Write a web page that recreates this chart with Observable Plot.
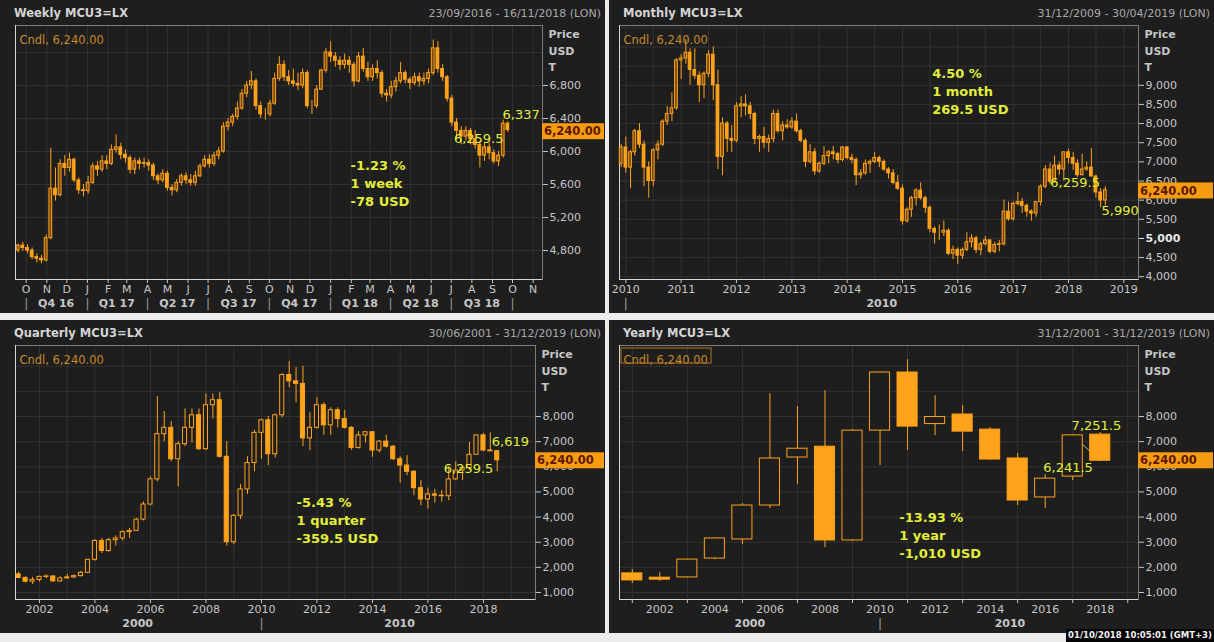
<!DOCTYPE html>
<html><head><meta charset="utf-8">
<script src="https://cdn.jsdelivr.net/npm/d3@7"></script>
<script src="https://cdn.jsdelivr.net/npm/@observablehq/plot@0.6"></script>
<style>
html,body{margin:0;padding:0;background:#ececec;}
#root{position:relative;width:1214px;height:642px;overflow:hidden;background:#ececec;font-family:"DejaVu Sans",sans-serif;}
.panel{position:absolute;width:605px;height:313px;background:#1e1e1e;overflow:hidden;box-shadow:inset 0 0 0 1px #4a4a4a;}
.panel svg{position:absolute;left:0;top:0;}
.ttl{position:absolute;left:14px;top:6px;font-weight:bold;font-size:11.5px;color:#d4d4d4;white-space:nowrap;}
.rng{position:absolute;right:4px;top:7px;font-size:11px;color:#a9a9a9;white-space:nowrap;}
.stamp{position:absolute;left:1066px;top:629px;width:148px;height:13px;background:#050505;color:#f0f0f0;font-size:8.5px;font-weight:bold;line-height:13px;text-align:center;white-space:nowrap;}
</style></head>
<body><div id="root"></div>
<script>
// ---------------- DATA ----------------
const lastPrice = 6240;
const instrument = "MCU3=LX";

// Weekly candles (week starting Monday 2016-09-19 ... 2018-09-24)
const weeklyDates = d3.utcMonday.range(new Date("2016-09-19"), new Date("2018-09-25"));
const weeklyOpen = [4800,4860,4830,4800,4720,4700,4680,4950,5550,5470,
5850,5800,5900,5650,5530,5520,5620,5820,5780,5880,
5850,6020,6050,5960,5920,5780,5880,5850,5860,5830,
5700,5650,5730,5560,5530,5620,5700,5650,5620,5700,
5820,5900,5850,5950,6000,6300,6350,6420,6520,6700,
6800,6850,6550,6450,6450,6580,6880,7050,6900,6850,
6820,6800,6950,6550,6550,6750,6980,7200,7150,7100,
7050,7100,7050,6850,7150,7000,6900,7000,6950,6700,
6680,6780,6850,6950,6870,6830,6900,6850,6880,6950,
7250,7000,6900,6640,6350,6250,6180,6250,6150,6080,
5950,6050,5980,5880,5950,6337];
const weeklyHigh = [4880,4900,4870,4830,4760,4740,4990,6040,5800,5900,
5950,5980,5920,5680,5600,5700,5860,5880,5950,5950,
6080,6200,6100,6020,5950,5920,5920,5920,5900,5860,
5730,5780,5760,5600,5660,5730,5740,5720,5760,5850,
5950,5960,5990,6050,6350,6400,6450,6600,6750,6850,
6970,6880,6600,6520,6620,6950,7150,7100,6980,7000,
6950,7000,6980,6620,6800,7000,7250,7330,7200,7150,
7180,7150,7080,7200,7250,7080,7050,7100,6980,6750,
6850,6900,7080,6980,6900,6950,6950,6950,7000,7350,
7330,7050,6920,6680,6400,6300,6300,6280,6250,6120,
6100,6100,6020,6000,6380,6360];
const weeklyLow = [4770,4790,4760,4690,4650,4640,4660,4930,5400,5450,
5700,5750,5620,5480,5450,5480,5600,5700,5750,5780,
5830,5980,5900,5860,5730,5720,5780,5800,5760,5650,
5600,5620,5520,5460,5500,5580,5600,5580,5580,5680,
5800,5800,5820,5900,5980,6250,6300,6380,6500,6650,
6750,6500,6400,6380,6420,6560,6850,6850,6800,6780,
6740,6760,6520,6450,6520,6740,6950,7080,7020,6980,
7000,6950,6780,6830,6960,6850,6850,6880,6650,6600,
6640,6720,6820,6820,6750,6800,6780,6800,6820,6920,
6950,6850,6600,6300,6160,6080,6130,6080,6030,5800,
5880,5900,5850,5820,5920,6230];
const weeklyClose = [4860,4830,4800,4720,4700,4680,4950,5550,5470,5850,
5800,5900,5650,5530,5520,5620,5820,5780,5880,5850,
6020,6050,5960,5920,5780,5880,5850,5860,5830,5700,
5650,5730,5560,5530,5620,5700,5650,5620,5700,5820,
5900,5850,5950,6000,6300,6350,6420,6520,6700,6800,
6850,6550,6450,6450,6580,6880,7050,6900,6850,6820,
6800,6950,6550,6550,6750,6980,7200,7150,7100,7050,
7100,7050,6850,7150,7000,6900,7000,6950,6700,6680,
6780,6850,6950,6870,6830,6900,6850,6880,6950,7250,
7000,6900,6640,6350,6250,6180,6250,6150,6080,5950,
6050,5980,5880,5950,6337,6259.5];

// Monthly candles (Dec 2009 ... Sep 2018)
const monthlyDates = d3.utcMonth.range(new Date("2009-12-01"), new Date("2018-09-02"));
const monthlyOpen = [6950,
7375,6850,7250,7800,7450,6850,6500,7300,7450,8050,8250,8400,
9650,9700,9850,9400,9250,9000,9300,9800,9000,7130,8000,7600,
7550,8450,8500,8450,8250,7600,7650,7500,7600,8250,7800,7950,
7900,8050,7800,7550,7000,7250,6750,6950,7150,7250,7200,7050,
7375,7100,7050,6650,6700,6950,7000,7100,7000,6800,6700,6450,
6300,5450,5750,6050,6250,6050,5800,5250,5150,5150,5200,4600,
4700,4550,4700,4900,5000,4700,4850,4950,4650,4830,4850,5700,
5500,5900,5950,5850,5700,5650,5950,6350,6800,6480,6900,6800,
7250,7100,6950,6650,6800,6850,6619,6200,5990];
const monthlyHigh = [7450,
7650,7300,7850,8000,7550,7000,7350,7550,8100,8450,8800,9700,
9800,10190,9950,9950,9350,9350,9900,10000,9400,8150,8050,7950,
8550,8700,8750,8550,8300,7700,7900,7700,8350,8350,8050,8100,
8150,8250,7850,7600,7450,7350,7000,7400,7300,7400,7250,7400,
7400,7200,7100,6800,7050,7050,7250,7150,7050,6850,6800,6650,
6400,5800,6100,6300,6450,6100,5850,5300,5350,5450,5250,4800,
4750,4750,5150,5100,5050,4900,5050,4950,4900,4950,6000,5950,
5950,6200,6050,5900,5750,5950,6400,6900,6970,7150,7000,7250,
7330,7250,7050,7200,7000,7350,6650,6300,6350];
const monthlyLow = [6850,
6700,6300,7150,7350,6350,6050,6350,7050,7400,7950,8050,8350,
9150,9550,9000,9150,8550,8650,9200,8600,6800,6640,7250,7250,
7500,8150,8200,8100,7450,7250,7350,7250,7500,7750,7550,7850,
7850,7750,7500,6850,6950,6650,6700,6900,6950,7050,6950,7000,
7050,6950,6380,6550,6650,6700,6950,6850,6750,6550,6400,6250,
5350,5400,5550,5850,6000,5650,5150,4850,4950,5050,4550,4450,
4320,4450,4650,4750,4600,4550,4800,4600,4600,4650,4800,5450,
5450,5850,5650,5550,5450,5550,5850,6300,6400,6450,6650,6500,
6950,6780,6600,6650,6750,6600,6050,5800,5850];
const monthlyClose = [7375,
6850,7250,7800,7450,6850,6500,7300,7450,8050,8250,8400,9650,
9700,9850,9400,9250,9000,9300,9800,9000,7130,8000,7600,7550,
8450,8500,8450,8250,7600,7650,7500,7600,8250,7800,7950,7900,
8050,7800,7550,7000,7250,6750,6950,7150,7250,7200,7050,7375,
7100,7050,6650,6700,6950,7000,7100,7000,6800,6700,6450,6300,
5450,5750,6050,6250,6050,5800,5250,5150,5150,5200,4600,4700,
4550,4700,4900,5000,4700,4850,4950,4650,4830,4850,5700,5500,
5900,5950,5850,5700,5650,5950,6350,6800,6480,6900,6800,7250,
7100,6950,6650,6800,6850,6619,6200,5990,6259.5];

// Quarterly candles (Q2 2001 ... Q3 2018)
const quarterlyDates = d3.utcMonth.every(3).range(new Date("2001-04-01"), new Date("2018-07-02"));
const quarterlyOpen = [1720,1580,1430, 1500,1620,1640,1440, 1560,1600,1650,1780, 2300,3050,2650,3080,
3150,3400,3450,3900, 4500,5500,7300,7550, 6300,6900,7550,8050, 6700,8450,8650,6400,
3000,4050,5100,6150, 7350,7850,6500,8050, 9650,9400,9300,7130, 7550,8450,7650,8250,
7900,7550,6750,7250, 7375,6650,7000,6800, 6300,6050,5800,5150, 4700,4900,4850,4830,
5500,5850,5950,6480, 7250,6650,6619];
const quarterlyHigh = [1800,1620,1600, 1650,1700,1650,1620, 1720,1700,1850,2320, 3100,3150,3150,3250,
3450,3550,3950,4600, 5600,8800,8200,7800, 7000,8300,8300,8300, 8900,8900,8950,7000,
4100,5300,6400,7450, 7900,8000,8100,9700, 10190,9950,10000,8150, 8750,8550,8350,8350,
8250,7600,7400,7400, 7400,7050,7250,6850, 6400,6450,5850,5450, 5150,5100,5050,6000,
6200,5950,6970,7250, 7330,7350,6650];
const quarterlyLow = [1560,1380,1320, 1420,1550,1420,1420, 1550,1560,1620,1760, 2250,2550,2600,2850,
3050,3150,3450,3850, 4450,5400,7000,6200, 5200,6800,6950,6650, 6650,7900,6350,2850,
2900,3900,4900,5800, 6300,6050,6350,7950, 9150,8550,6800,6640, 7500,7250,7250,7550,
7500,6650,6700,6950, 6380,6550,6750,6250, 5350,5650,4850,4450, 4320,4550,4600,4650,
5450,5450,5850,6450, 6600,6600,5800];
const quarterlyClose = [1580,1430,1500, 1620,1640,1440,1560, 1600,1650,1780,2300, 3050,2650,3080,3150,
3400,3450,3900,4500, 5500,7300,7550,6300, 6900,7550,8050,6700, 8450,8650,6400,3000,
4050,5100,6150,7350, 7850,6500,8050,9650, 9400,9300,7130,7550, 8450,7650,8250,7900,
7550,6750,7250,7375, 6650,7000,6800,6300, 6050,5800,5150,4700, 4900,4850,4830,5500,
5850,5950,6480,7250, 6650,6619,6259.5];

// Yearly candles (2001 ... 2018)
const yearlyYears = [2001,2002,2003,2004,2005,2006,2007,2008,2009,2010,2011,2012,2013,2014,2015,2016,2017,2018];
const yearlyOpen  = [1760,1590,1600,2350,3110,4460,6370,6800,3070,7440,9750,7700,8080,7480,6330,4780,5610,7280];
const yearlyHigh  = [1910,1790,2330,3170,4540,8910,8400,9030,7480,9780,10260,8830,8430,7560,6530,5690,7280,7360];
const yearlyLow   = [1360,1440,1570,2300,2910,4340,5290,2790,3030,6050,6650,7240,6600,6250,4460,4340,5450,6230];
const yearlyClose = [1480,1510,2310,3150,4460,6330,6720,3070,7440,9750,7600,7980,7400,6290,4660,5530,7251.5,6241.5];

// Axis tick values and labels
const weeklyYTicks = [4800,5200,5600,6000,6400,6800];
const weeklyGridY = [4800,5200,5600,6000,6400,6800,7200];
const weeklyMonthTicks = d3.utcMonth.range(new Date("2016-10-01"), new Date("2018-11-02"));
const weeklyMonthLabels = ["O","N","D","J","F","M","A","M","J","J","A","S","O","N","D","J","F","M","A","M","J","J","A","S","O","N"];
const weeklyQuarterSeps = d3.utcMonth.every(3).range(new Date("2016-10-01"), new Date("2018-10-02"));
const weeklyQuarterLabels = ["Q4 16","Q1 17","Q2 17","Q3 17","Q4 17","Q1 18","Q2 18","Q3 18"];
const weeklyQuarterMids = ["2016-11-15","2017-02-14","2017-05-16","2017-08-16","2017-11-15","2018-02-14","2018-05-16","2018-08-16"];

const monthlyYTicks = [4000,4500,5500,6000,6500,7000,7500,8000,8500,9000];
const monthlyYBold = [5000];
const monthlyGridY = [4000,4500,5000,5500,6000,6500,7000,7500,8000,8500,9000,9500,10000,10500];
const monthlyYearTicks = d3.utcYear.range(new Date("2010-01-01"), new Date("2019-01-02"));
const monthlyDecades = [{x: "2014-08-17", text: "2010"}];
const monthlyDecadeSeps = ["2010-01-01"];

const longYTicks = [1000,2000,3000,4000,5000,6000,7000,8000];
const longGridY = [1000,2000,3000,4000,5000,6000,7000,8000,9000,10000];
const quarterlyYearTicks = d3.utcYear.every(2).range(new Date("2002-01-01"), new Date("2019-01-02"));
const quarterlyDecades = [{x: "2005-07-16", text: "2000"}, {x: "2014-12-24", text: "2010"}];
const quarterlyDecadeSeps = ["2010-01-01"];

const yearlyLabelYears = [2002,2004,2006,2008,2010,2012,2014,2016,2018];
const yearlyTickYears = [2001,2003,2005,2007,2009,2011,2013,2015,2017,2019];
const yearlyDecades = [{x: 2005.27, text: "2000"}, {x: 2014.72, text: "2010"}];
const yearlyDecadeSeps = [2010];

// Annotations
const weeklyNotes = [{x: "2018-01-31", y: 5624, text: "-1.23 %\n1 week\n-78 USD"}];
const weeklyPoints = [{x: "2018-09-16", y: 6448, text: "6,337"}, {x: "2018-07-05", y: 6157, text: "6,259.5"}];
const monthlyNotes = [{x: "2015-07-16", y: 8880, text: "4.50 %\n1 month\n269.5 USD"}];
const monthlyPoints = [{x: "2017-09-03", y: 6458, text: "6,259.5"}, {x: "2018-08-07", y: 5729, text: "5,990"}];
const quarterlyNotes = [{x: "2011-04-08", y: 3905, text: "-5.43 %\n1 quarter\n-359.5 USD"}];
const quarterlyPoints = [{x: "2018-04-20", y: 7010, text: "6,619"}, {x: "2016-07-27", y: 5935, text: "6,259.5"}];
const yearlyNotes = [{x: 2010.70, y: 3308, text: "-13.93 %\n1 year\n-1,010 USD"}];
const yearlyPoints = [{x: 2016.96, y: 7647, text: "7,251.5"}, {x: 2015.93, y: 5975, text: "6,241.5"}];
const yearlyLink = [{x1: 2017, y1: 7251.5, x2: 2018, y2: 6241.5}];

// ---------------- DRAWING ----------------
const ORANGE = "#ffa31a", BG = "#1e1e1e", GRID = "#323232", AXIS = "#c6c6c6", YELLOW = "#e2ee3a";
const W = 605, H = 313, MT = 25, MB = 34;
const fmt2 = d3.format(",.2f");
const fmtY = d3.format(",");
const D = s => new Date(s);
const DAY = 864e5;

function buildPanel(cfg) {
  const rows = cfg.dates.map((x, i) => ({x, open: cfg.open[i], high: cfg.high[i], low: cfg.low[i], close: cfg.close[i]}));
  const up = rows.filter(d => d.close >= d.open);
  const down = rows.filter(d => d.close < d.open);
  const x1 = d => cfg.shift(d.x, -1), x2 = d => cfg.shift(d.x, 1);
  const marks = [
    Plot.gridX(cfg.gridX, {stroke: GRID, strokeOpacity: 1}),
    Plot.gridY(cfg.gridY, {stroke: GRID, strokeOpacity: 1}),
    Plot.frame({stroke: "#7c7c7c"}),
    Plot.ruleX([cfg.xDomain[0]], {stroke: "#d6d6d6"}),
    Plot.ruleY([cfg.yDomain[0]], {stroke: "#d6d6d6"}),
    ...(cfg.link ? [Plot.link(cfg.link, {x1: "x1", y1: "y1", x2: "x2", y2: "y2", stroke: "#e6e6b0", strokeWidth: 0.8})] : []),
    Plot.ruleX(rows, {x: "x", y1: "low", y2: "high", stroke: ORANGE, strokeWidth: 1}),
    Plot.rect(up, {x1, x2, y1: "open", y2: "close", fill: cfg.upFill || BG, stroke: ORANGE, strokeWidth: 1}),
    Plot.rect(down, {x1, x2, y1: "open", y2: "close", fill: ORANGE, stroke: ORANGE, strokeWidth: 1}),
    Plot.axisY({anchor: "right", ticks: cfg.yTicks, tickFormat: fmtY, tickSize: 5, tickPadding: 2, color: AXIS, label: null, fontSize: 11}),
    ...(cfg.yBold ? [Plot.axisY({anchor: "right", ticks: cfg.yBold, tickFormat: fmtY, tickSize: 5, tickPadding: 2, color: "#e8e8e8", label: null, fontSize: 11, fontWeight: "bold"})] : []),
    ...cfg.xMarks,
    Plot.text(["Price\nUSD\nT"], {text: d => d, frameAnchor: "top-right", textAnchor: "start", lineAnchor: "top", dx: 6, dy: 1, lineHeight: 1.5, fontWeight: "bold", fill: AXIS, fontSize: 11}),
    Plot.text([`Cndl, ${fmt2(lastPrice)}`], {text: d => d, frameAnchor: "top-left", textAnchor: "start", dx: 4, dy: 10, fill: "#c68a2c", fontSize: 11.5}),
    Plot.text(cfg.notes, {x: "x", y: "y", text: "text", textAnchor: "start", fill: YELLOW, fontSize: 13, fontWeight: "bold", lineHeight: 1.38}),
    Plot.text(cfg.points, {x: "x", y: "y", text: "text", textAnchor: "start", fill: YELLOW, fontSize: 13})
  ];
  const chart = Plot.plot({
    width: W, height: H, marginTop: MT, marginBottom: MB, marginLeft: cfg.ml, marginRight: cfg.mr,
    x: {domain: cfg.xDomain, type: cfg.xType},
    y: {domain: cfg.yDomain},
    style: {background: BG, fontFamily: "DejaVu Sans, sans-serif", fontSize: "11px", color: AXIS, overflow: "visible"},
    marks
  });
  // last price box on the right axis, placed with the plot's own y scale
  const svg = d3.select(chart);
  const yp = chart.scale("y").apply(lastPrice);
  const xr = W - cfg.mr;
  svg.append("rect").attr("x", xr).attr("y", yp - 8).attr("width", W - xr - 1).attr("height", 16).attr("fill", "#f59c10");
  svg.append("text").attr("x", xr + 2).attr("y", yp).attr("dy", "0.36em").attr("fill", "#5e1600")
    .attr("text-anchor", "start").attr("font-size", 11.5).attr("font-weight", "bold")
    .attr("font-family", "DejaVu Sans, sans-serif").text(fmt2(lastPrice));
  if (cfg.boxCndl) {
    svg.append("rect").attr("x", cfg.ml + 2).attr("y", MT + 3).attr("width", 90).attr("height", 15)
      .attr("fill", "none").attr("stroke", "#b8741c").attr("stroke-width", 1);
  }
  const div = document.createElement("div");
  div.className = "panel";
  div.style.left = cfg.left + "px";
  div.style.top = cfg.top + "px";
  div.appendChild(chart);
  const t = document.createElement("div"); t.className = "ttl"; t.textContent = `${cfg.period} ${instrument}`; div.appendChild(t);
  const r = document.createElement("div"); r.className = "rng"; r.textContent = cfg.range; div.appendChild(r);
  document.getElementById("root").appendChild(div);
}

const sepStyle = {fill: "#9c9c9c", fontSize: 12};
const timeShift = days => (x, s) => new Date(+x + s * days * DAY);

// Weekly
const monthLabelMap = new Map(weeklyMonthTicks.map((d, i) => [+d, weeklyMonthLabels[i]]));
buildPanel({
  period: "Weekly", range: "23/09/2016 - 16/11/2018 (LON)", left: 0, top: 0, ml: 15, mr: 63,
  dates: weeklyDates, open: weeklyOpen, high: weeklyHigh, low: weeklyLow, close: weeklyClose,
  xDomain: [D("2016-09-15"), D("2018-11-15")], xType: "utc", yDomain: [4449, 7527],
  shift: timeShift(2.1), upFill: "#7a4a10", yTicks: weeklyYTicks, gridY: weeklyGridY, gridX: weeklyMonthTicks,
  xMarks: [
    Plot.axisX({ticks: weeklyMonthTicks, tickFormat: d => monthLabelMap.get(+d), tickSize: 4, tickPadding: 2, color: AXIS, label: null, fontSize: 11}),
    Plot.text(weeklyQuarterLabels.map((t, i) => ({t, x: D(weeklyQuarterMids[i])})), {x: "x", text: "t", frameAnchor: "bottom", dy: 27, fontWeight: "bold", fill: AXIS, fontSize: 11}),
    Plot.text(weeklyQuarterSeps, {x: d => d, text: () => "|", frameAnchor: "bottom", dy: 28, ...sepStyle})
  ],
  notes: weeklyNotes.map(d => ({...d, x: D(d.x)})), points: weeklyPoints.map(d => ({...d, x: D(d.x)}))
});

// Monthly
buildPanel({
  period: "Monthly", range: "31/12/2009 - 30/04/2019 (LON)", left: 609, top: 0, ml: 10, mr: 76,
  dates: monthlyDates, open: monthlyOpen, high: monthlyHigh, low: monthlyLow, close: monthlyClose,
  xDomain: [D("2009-11-20"), D("2019-04-08")], xType: "utc", yDomain: [3927, 10562],
  shift: timeShift(9), upFill: "#7a4a10", yTicks: monthlyYTicks, yBold: monthlyYBold, gridY: monthlyGridY,
  gridX: d3.utcMonth.every(6).range(D("2010-01-01"), D("2019-01-02")),
  xMarks: [
    Plot.axisX({ticks: monthlyYearTicks, tickFormat: "%Y", tickSize: 4, tickPadding: 2, color: AXIS, label: null, fontSize: 11}),
    Plot.text(monthlyDecades.map(d => ({...d, x: D(d.x)})), {x: "x", text: "text", frameAnchor: "bottom", dy: 27, fontWeight: "bold", fill: AXIS, fontSize: 11}),
    Plot.text(monthlyDecadeSeps.map(D), {x: d => d, text: () => "|", frameAnchor: "bottom", dy: 28, ...sepStyle})
  ],
  notes: monthlyNotes.map(d => ({...d, x: D(d.x)})), points: monthlyPoints.map(d => ({...d, x: D(d.x)}))
});

// Quarterly
buildPanel({
  period: "Quarterly", range: "30/06/2001 - 31/12/2019 (LON)", left: 0, top: 320, ml: 15, mr: 70,
  dates: quarterlyDates, open: quarterlyOpen, high: quarterlyHigh, low: quarterlyLow, close: quarterlyClose,
  xDomain: [D("2001-02-19"), D("2019-11-17")], xType: "utc", yDomain: [721, 10826],
  shift: timeShift(27), yTicks: longYTicks, gridY: longGridY,
  gridX: d3.utcYear.range(D("2002-01-01"), D("2020-01-01")),
  xMarks: [
    Plot.axisX({ticks: quarterlyYearTicks, tickFormat: "%Y", tickSize: 4, tickPadding: 2, color: AXIS, label: null, fontSize: 11}),
    Plot.text(quarterlyDecades.map(d => ({...d, x: D(d.x)})), {x: "x", text: "text", frameAnchor: "bottom", dy: 27, fontWeight: "bold", fill: AXIS, fontSize: 11}),
    Plot.text(quarterlyDecadeSeps.map(D), {x: d => d, text: () => "|", frameAnchor: "bottom", dy: 28, ...sepStyle})
  ],
  notes: quarterlyNotes.map(d => ({...d, x: D(d.x)})), points: quarterlyPoints.map(d => ({...d, x: D(d.x)}))
});

// Yearly
buildPanel({
  period: "Yearly", range: "31/12/2001 - 31/12/2019 (LON)", left: 609, top: 320, ml: 10, mr: 76,
  dates: yearlyYears, open: yearlyOpen, high: yearlyHigh, low: yearlyLow, close: yearlyClose,
  xDomain: [2000.535, 2019.39], xType: "linear", yDomain: [721, 10826],
  shift: (x, s) => x + s * 0.365, yTicks: longYTicks, gridY: longGridY, gridX: yearlyTickYears,
  link: yearlyLink, boxCndl: true,
  xMarks: [
    Plot.axisX({ticks: yearlyTickYears, tickFormat: () => "", tickSize: 4, color: AXIS, label: null}),
    Plot.axisX({ticks: yearlyLabelYears, tickFormat: d => String(d), tickSize: 0, tickPadding: 6, color: AXIS, label: null, fontSize: 11}),
    Plot.text(yearlyDecades, {x: "x", text: "text", frameAnchor: "bottom", dy: 27, fontWeight: "bold", fill: AXIS, fontSize: 11}),
    Plot.text(yearlyDecadeSeps, {x: d => d, text: () => "|", frameAnchor: "bottom", dy: 28, ...sepStyle})
  ],
  notes: yearlyNotes, points: yearlyPoints
});

const st = document.createElement("div");
st.className = "stamp";
st.textContent = "01/10/2018 10:05:01  (GMT+3)";
document.getElementById("root").appendChild(st);
</script>
</body></html>
